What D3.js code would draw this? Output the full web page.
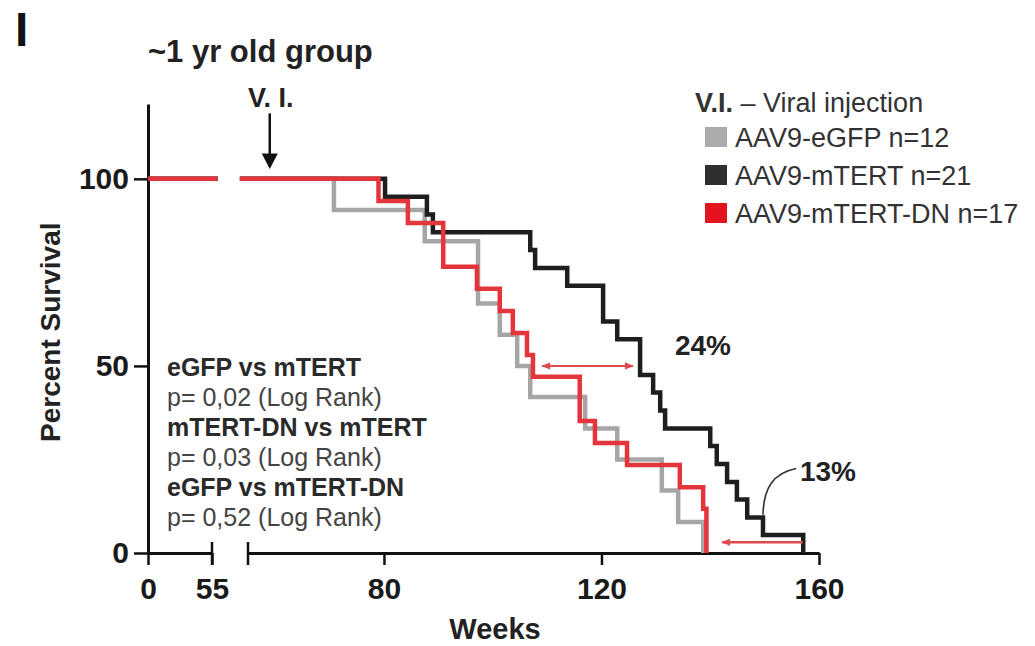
<!DOCTYPE html>
<html><head><meta charset="utf-8">
<script src="https://cdn.jsdelivr.net/npm/d3@7"></script>
<style>
html,body{margin:0;padding:0;background:#fff;}
svg{display:block;font-family:"Liberation Sans",Arial,Helvetica,sans-serif;}
</style></head><body>
<svg id="chart" width="1035" height="646"></svg>
<script>
// ---------- data ----------
const groupNames = ["AAV9-eGFP n=12", "AAV9-mTERT n=21", "AAV9-mTERT-DN n=17"];
const eGFPWeeks  = [70.8, 87.5, 97.3, 101.3, 104.5, 106.9, 117.0, 122.9, 131.1, 134.1, 138.7];
const eGFPSurv   = [91.7, 83.3, 66.7, 58.3, 50.0, 41.7, 33.3, 25.0, 16.7, 8.3, 0];
const mTERTWeeks = [80.2, 87.9, 89.0, 106.9, 107.8, 113.7, 120.3, 122.9, 127.1, 129.5, 130.8, 131.7, 140.0, 141.2, 143.1, 144.9, 146.8, 149.7, 157.1];
const mTERTSurv  = [95.2, 90.5, 85.7, 81.0, 76.2, 71.4, 61.9, 57.1, 47.6, 42.9, 38.1, 33.3, 28.6, 23.8, 19.0, 14.3, 9.5, 4.8, 0];
const dnWeeks    = [79.0, 84.4, 90.9, 97.1, 101.3, 103.7, 106.3, 107.4, 116.0, 118.8, 124.7, 134.4, 138.7, 139.3];
const dnSurv     = [94.1, 88.2, 76.5, 70.6, 64.7, 58.8, 52.9, 47.1, 35.3, 29.4, 23.5, 17.6, 11.8, 0];
const xTicksLeft  = [0, 55];
const xTicksRight = [80, 120, 160];
const yTicks      = [0, 50, 100];
const statLines   = ["eGFP vs mTERT", "p= 0,02 (Log Rank)", "mTERT-DN vs mTERT", "p= 0,03 (Log Rank)", "eGFP vs mTERT-DN", "p= 0,52 (Log Rank)"];
const viWeek = 59;
const medianGap = {from: 109.1, to: 125.8, level: 50, label: "24%"};
const maxGap    = {from: 157.0, to: 142.2, level: 2.9, label: "13%"};

// ---------- styles ----------
const colors = ["#a6a6a6", "#1e1e1e", "#e3353b"];
const swatchColors = ["#ababab", "#2f2f2f", "#e3141d"];
const annColor = "#de4a4d";

const svg = d3.select("#chart");
const x1 = d3.scaleLinear().domain([0, 55]).range([148, 212]);
const x2 = d3.scaleLinear().domain([55, 160]).range([248, 819]);
const y  = d3.scaleLinear().domain([0, 120]).range([553, 104]);

const defs = svg.append("defs");
defs.append("marker").attr("id", "ah").attr("viewBox", "0 0 10 10")
  .attr("refX", 9).attr("refY", 5).attr("markerWidth", 9).attr("markerHeight", 9)
  .attr("markerUnits", "userSpaceOnUse").attr("orient", "auto-start-reverse")
  .append("path").attr("d", "M0,1 L10,5 L0,9 Z").attr("fill", annColor);

// panel letter & title
svg.append("text").attr("x", 15).attr("y", 46).attr("font-size", 48).attr("font-weight", "bold").attr("fill", "#111").text("I");
svg.append("text").attr("x", 148).attr("y", 62).attr("font-size", 31).attr("font-weight", "bold").attr("fill", "#222").text("~1 yr old group");

// axes
const yAxis = svg.append("g").attr("transform", `translate(${x1(0)},0)`)
  .call(d3.axisLeft(y).tickValues(yTicks).tickSize(14).tickSizeOuter(0).tickPadding(5));
const xAxisL = svg.append("g").attr("transform", `translate(0,${y(0)})`)
  .call(d3.axisBottom(x1).tickValues(xTicksLeft).tickSize(12).tickSizeOuter(0).tickPadding(13));
const xAxisR = svg.append("g").attr("transform", `translate(0,${y(0)})`)
  .call(d3.axisBottom(x2).tickValues(xTicksRight).tickSize(12).tickSizeOuter(0).tickPadding(13));
[yAxis, xAxisL, xAxisR].forEach(g => {
  g.select(".domain").attr("stroke", "#111").attr("stroke-width", 3);
  g.selectAll(".tick line").attr("stroke", "#111").attr("stroke-width", 2.5);
  g.selectAll(".tick text").attr("font-size", 30).attr("font-weight", "bold").attr("fill", "#1a1a1a")
    .attr("font-family", '"Liberation Sans",Arial,sans-serif');
});
// axis break bars
[x1(55), x2(55)].forEach(bx => {
  svg.append("line").attr("x1", bx).attr("x2", bx).attr("y1", y(0) - 11).attr("y2", y(0) + 12)
    .attr("stroke", "#111").attr("stroke-width", 2.5);
});

// axis titles
svg.append("text").attr("transform", `translate(60,${y(59)}) rotate(-90)`).attr("text-anchor", "middle")
  .attr("font-size", 28).attr("font-weight", "bold").attr("fill", "#222").text("Percent Survival");
svg.append("text").attr("x", 495).attr("y", 639).attr("text-anchor", "middle")
  .attr("font-size", 29).attr("font-weight", "bold").attr("fill", "#222").text("Weeks");

// survival curves
const series = [
  {weeks: eGFPWeeks, surv: eGFPSurv},
  {weeks: mTERTWeeks, surv: mTERTSurv},
  {weeks: dnWeeks, surv: dnSurv}
];
const stepLine = d3.line().x(d => x2(d[0])).y(d => y(d[1])).curve(d3.curveStepAfter);
const preLine = d3.line().x(d => x1(d[0])).y(d => y(d[1]));
series.forEach((s, i) => {
  svg.append("path").attr("d", preLine([[0, 100], [60, 100]]))
    .attr("fill", "none").attr("stroke", colors[i]).attr("stroke-width", 4.5);
  const pts = [[53.5, 100]].concat(s.weeks.map((w, k) => [w, s.surv[k]]));
  svg.append("path").attr("d", stepLine(pts))
    .attr("fill", "none").attr("stroke", colors[i]).attr("stroke-width", 4.5)
    .attr("stroke-linejoin", "miter");
});

// V.I. arrow
svg.append("line").attr("x1", x2(viWeek)).attr("x2", x2(viWeek)).attr("y1", y(117.5)).attr("y2", y(106.5))
  .attr("stroke", "#111").attr("stroke-width", 2.5);
svg.append("path").attr("d", `M${x2(viWeek) - 8},${y(106.8)} L${x2(viWeek) + 8},${y(106.8)} L${x2(viWeek)},${y(102.6)} Z`).attr("fill", "#111");
svg.append("text").attr("x", x2(viWeek) + 1).attr("y", y(119.3)).attr("text-anchor", "middle")
  .attr("font-size", 27).attr("font-weight", "bold").attr("fill", "#222").text("V. I.");

// annotations
svg.append("line").attr("x1", x2(medianGap.from)).attr("x2", x2(medianGap.to))
  .attr("y1", y(medianGap.level)).attr("y2", y(medianGap.level))
  .attr("stroke", annColor).attr("stroke-width", 2)
  .attr("marker-start", "url(#ah)").attr("marker-end", "url(#ah)");
svg.append("text").attr("x", x2(133.5)).attr("y", y(53)).attr("font-size", 28).attr("font-weight", "bold").attr("fill", "#222").text(medianGap.label);

svg.append("line").attr("x1", x2(maxGap.from)).attr("x2", x2(maxGap.to))
  .attr("y1", y(maxGap.level)).attr("y2", y(maxGap.level))
  .attr("stroke", annColor).attr("stroke-width", 2.5).attr("marker-end", "url(#ah)");
svg.append("text").attr("x", x2(156.5)).attr("y", y(19.3)).attr("font-size", 28).attr("font-weight", "bold").attr("fill", "#222").text(maxGap.label);
svg.append("path")
  .attr("d", `M${x2(155.8)},${y(22.6)} C${x2(151.6)},${y(21.4)} ${x2(149.8)},${y(17.4)} ${x2(149.7)},${y(10.2)}`)
  .attr("fill", "none").attr("stroke", "#333").attr("stroke-width", 1.6);

// stats text
statLines.forEach((t, i) => {
  svg.append("text").attr("x", 167).attr("y", 376 + i * 30).attr("font-size", 25)
    .attr("font-weight", i % 2 === 0 ? "bold" : "normal")
    .attr("fill", i % 2 === 0 ? "#2a2a2a" : "#444").text(t);
});

// legend
const lg = svg.append("g");
const hdr = lg.append("text").attr("x", 695).attr("y", 112).attr("font-size", 27).attr("fill", "#333");
hdr.append("tspan").attr("font-weight", "bold").text("V.I.");
hdr.append("tspan").text(" \u2013 Viral injection");
groupNames.forEach((n, i) => {
  const by = 147 + i * 38;
  lg.append("rect").attr("x", 705).attr("y", by - 20).attr("width", 22).attr("height", 20).attr("fill", swatchColors[i]);
  lg.append("text").attr("x", 735).attr("y", by).attr("font-size", 27).attr("fill", "#333").text(n);
});
</script>
</body></html>
